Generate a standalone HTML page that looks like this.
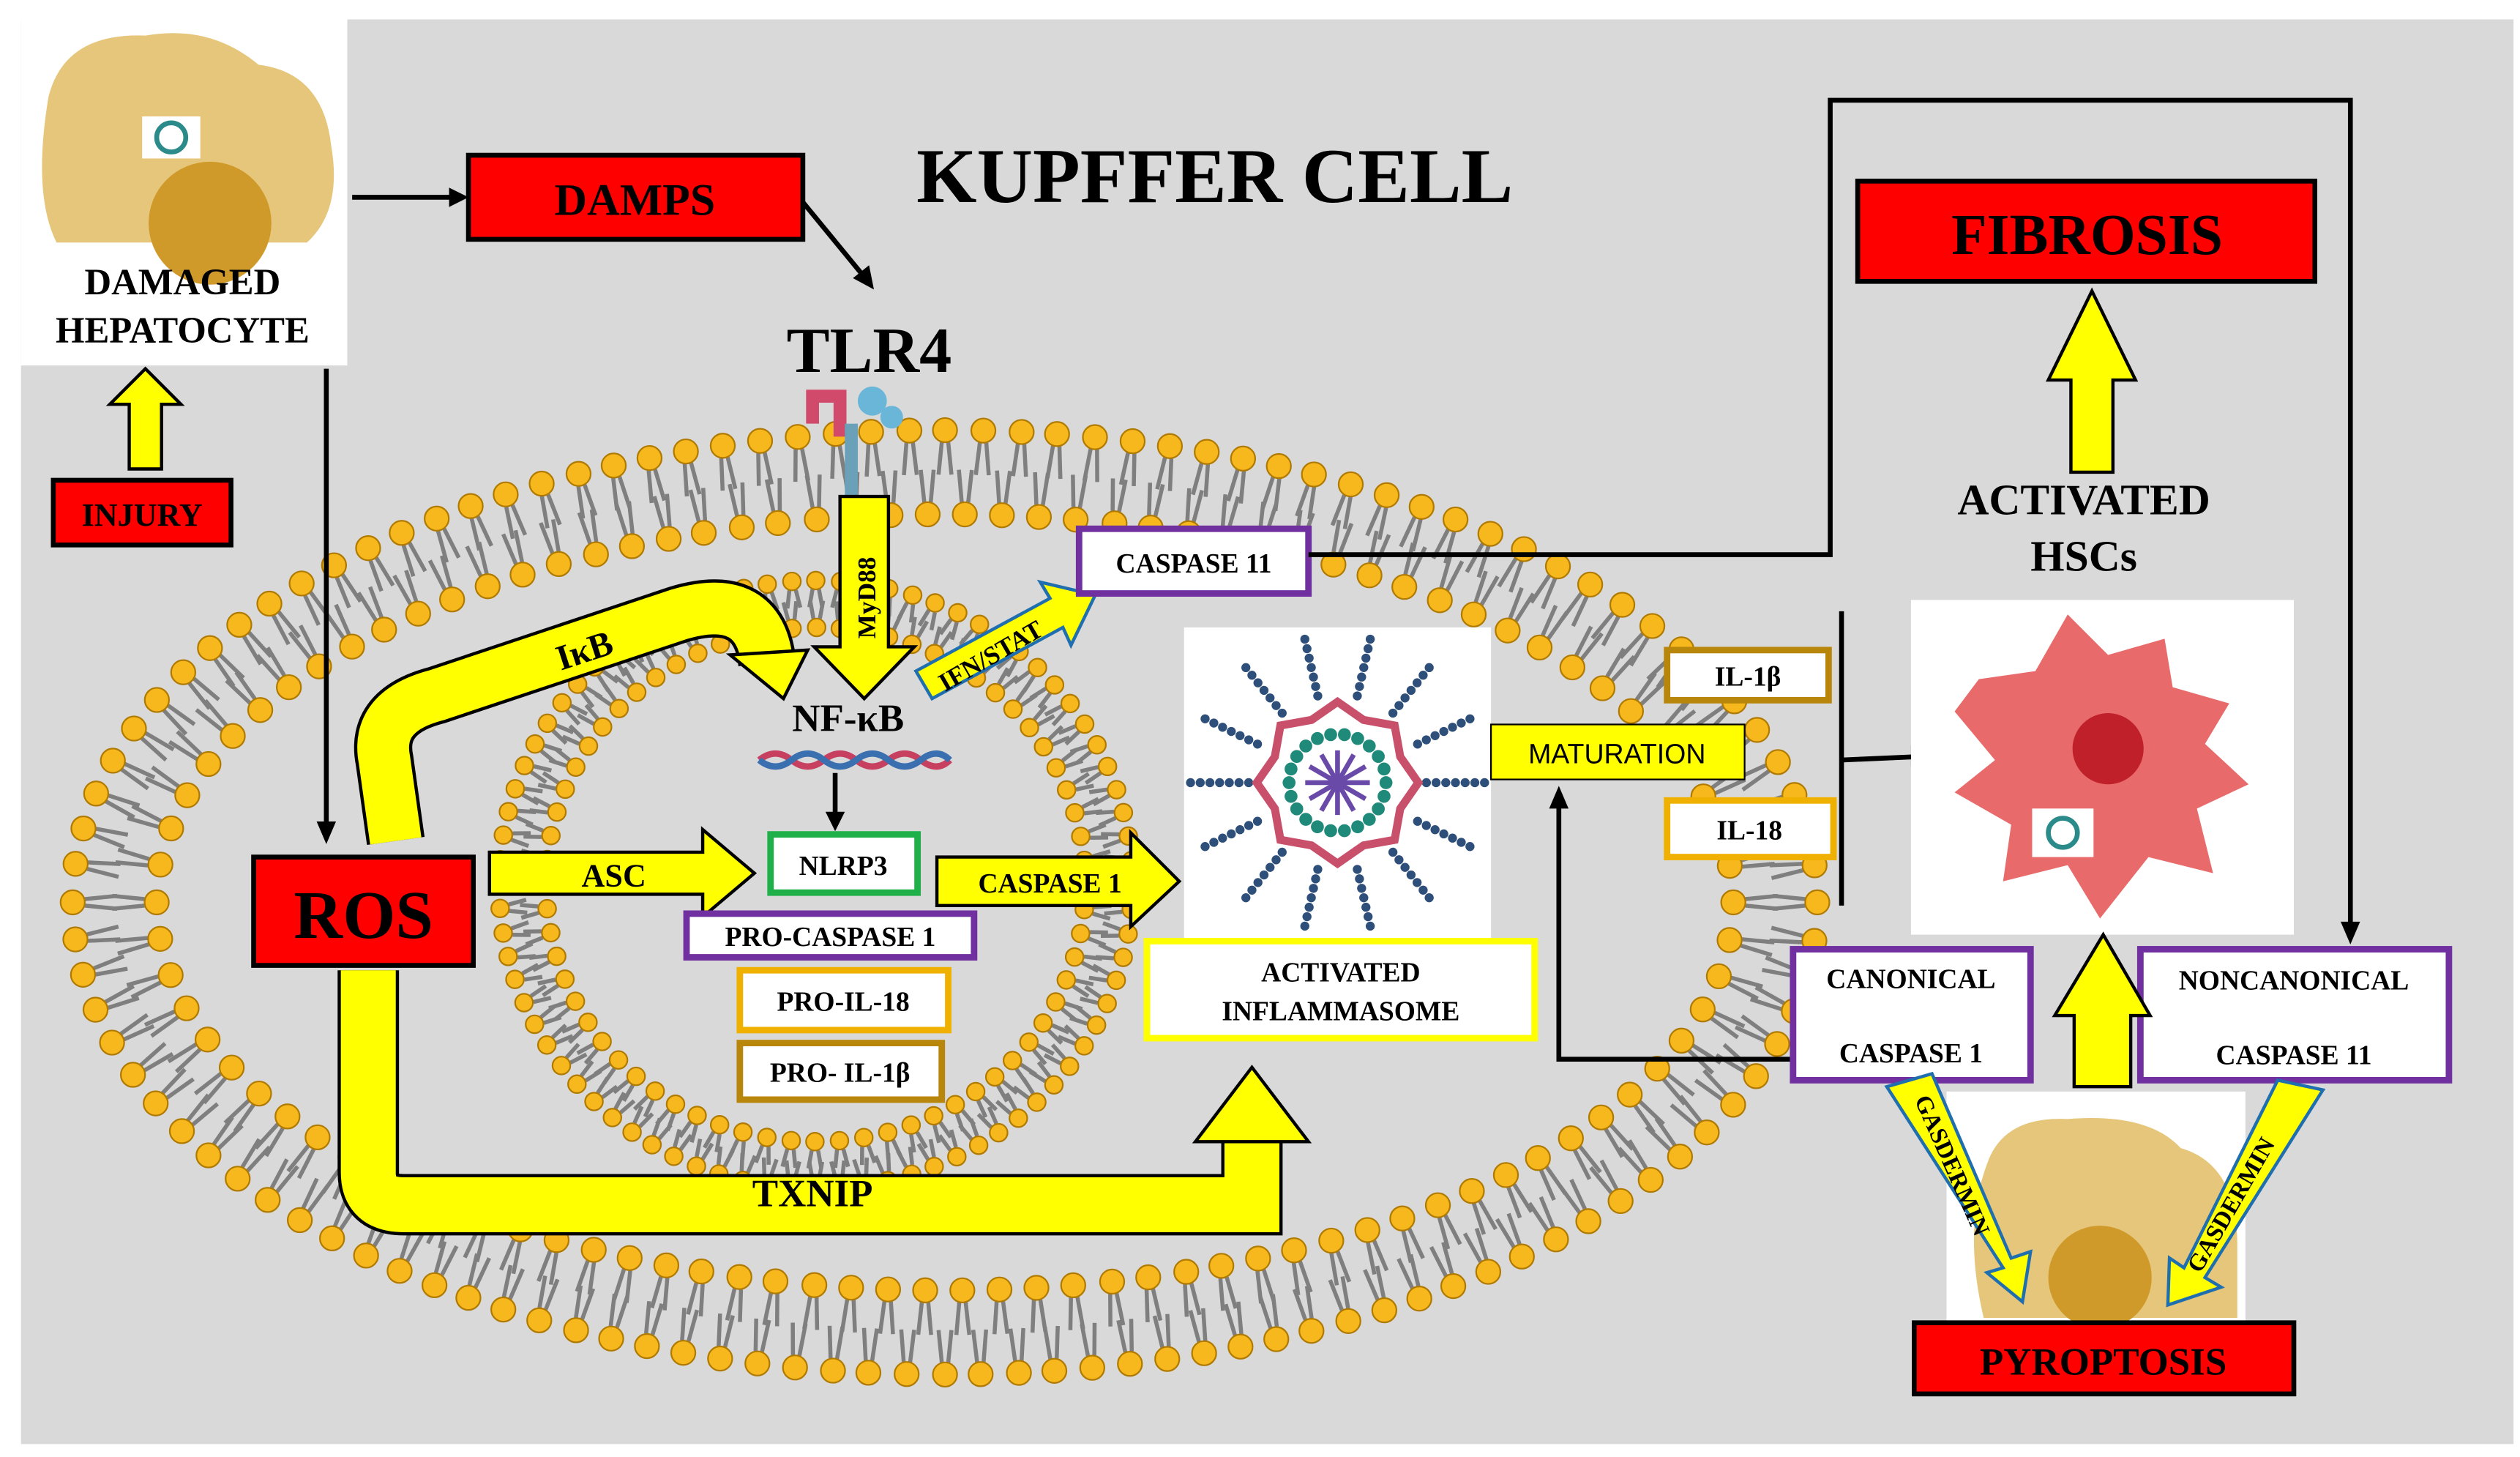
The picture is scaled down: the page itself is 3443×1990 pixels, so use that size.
<!DOCTYPE html>
<html><head><meta charset="utf-8"><style>
html,body{margin:0;padding:0;background:#fff}
svg{display:block}
text{font-family:"Liberation Serif",serif;font-weight:bold}
.s{font-family:"Liberation Sans",sans-serif;font-weight:normal}
</style></head><body>
<svg id="sv" width="3443" height="1990" viewBox="0 0 1560 901" preserveAspectRatio="none" xmlns="http://www.w3.org/2000/svg">
<rect x="0" y="0" width="1560" height="901" fill="#fff"/>
<rect x="13" y="12" width="1543" height="881" fill="#d9d9d9"/>
<rect x="13" y="12" width="202" height="214" fill="#fff"/>
<g id="mem"></g>

<path d="M30,60 Q40,20 90,22 Q130,15 160,40 Q200,45 205,90 Q212,130 190,150 L35,150 Q20,120 30,60Z" fill="#e6c67a"/>
<circle cx="130" cy="138" r="38" fill="#d09a2a"/>
<rect x="88" y="72" width="36" height="26" fill="#fff"/><circle cx="106" cy="85" r="9" fill="none" stroke="#2b8a8a" stroke-width="3"/>
<text x="113" y="182" font-size="23" text-anchor="middle">DAMAGED</text>
<text x="113" y="212" font-size="23" text-anchor="middle">HEPATOCYTE</text>

<polygon points="80,290 80,250 68,250 90,228 112,250 100,250 100,290" fill="#ff0" stroke="#000" stroke-width="2"/>
<rect x="33" y="297" width="110" height="40" fill="#f00" stroke="#000" stroke-width="3"/>
<text x="88" y="325" font-size="20" text-anchor="middle">INJURY</text>

<text x="752" y="125" font-size="48" text-anchor="middle">KUPFFER CELL</text>
<line x1="218" y1="122" x2="280" y2="122" stroke="#000" stroke-width="3"/><polygon points="290,122 278,116 278,128"/>
<rect x="290" y="96" width="207" height="52" fill="#f00" stroke="#000" stroke-width="3"/>
<text x="393" y="133" font-size="28" text-anchor="middle">DAMPS</text>
<line x1="497" y1="125" x2="534" y2="170" stroke="#000" stroke-width="3"/><polygon points="541,179 538,164 528,172"/>
<text x="538" y="230" font-size="40" text-anchor="middle">TLR4</text>
<path d="M503,262 V245 H520 V270" fill="none" stroke="#d14a6b" stroke-width="8"/>
<circle cx="540" cy="248" r="9" fill="#6ab6d8"/><circle cx="552" cy="258" r="7" fill="#6ab6d8"/>
<rect x="523" y="262" width="8" height="45" fill="#6aa0b8"/>

<line x1="202" y1="228" x2="202" y2="510" stroke="#000" stroke-width="3"/><polygon points="202,522 196,508 208,508"/>

<path d="M245,520 L238,470 Q232,440 270,430 L420,380 Q470,365 475,410" fill="none" stroke="#000" stroke-width="36"/>
<path d="M245,520 L238,470 Q232,440 270,430 L420,380 Q470,365 475,410" fill="none" stroke="#ff0" stroke-width="32"/>
<polygon points="452,405 500,402 485,432" fill="#ff0" stroke="#000" stroke-width="2"/>
<text x="345" y="415" font-size="22" transform="rotate(-18 345 408)">IκB</text>

<rect x="157" y="530" width="136" height="67" fill="#f00" stroke="#000" stroke-width="3"/>
<text x="225" y="580" font-size="42" text-anchor="middle">ROS</text>

<polygon points="520,307 550,307 550,400 566,400 535,432 504,400 520,400" fill="#ff0" stroke="#000" stroke-width="2"/>
<text x="0" y="0" font-size="16" transform="translate(542,395) rotate(-90)">MyD88</text>
<text x="525" y="452" font-size="24" text-anchor="middle">NF-κB</text>
<path d="M470,470 Q480,462 490,470 T510,470 T530,470 T550,470 T570,470 T588,470" fill="none" stroke="#c84060" stroke-width="4"/>
<path d="M470,470 Q480,478 490,470 T510,470 T530,470 T550,470 T570,470 T588,470" fill="none" stroke="#3a70b0" stroke-width="4"/>
<line x1="517" y1="478" x2="517" y2="504" stroke="#000" stroke-width="3"/><polygon points="517,514 511,502 523,502"/>

<polygon points="303,527 435,527 435,513 467,540 435,567 435,553 303,553" fill="#ff0" stroke="#000" stroke-width="2"/>
<text x="380" y="548" font-size="20" text-anchor="middle">ASC</text>
<rect x="477" y="516" width="91" height="36" fill="#fff" stroke="#1fb04a" stroke-width="4"/>
<text x="522" y="541" font-size="17" text-anchor="middle">NLRP3</text>
<rect x="425" y="565" width="178" height="27" fill="#fff" stroke="#7030a0" stroke-width="4"/>
<text x="514" y="585" font-size="17" text-anchor="middle">PRO-CASPASE 1</text>
<rect x="458" y="600" width="129" height="37" fill="#fff" stroke="#f0b000" stroke-width="4"/>
<text x="522" y="625" font-size="17" text-anchor="middle">PRO-IL-18</text>
<rect x="458" y="645" width="125" height="35" fill="#fff" stroke="#b8860b" stroke-width="4"/>
<text x="520" y="669" font-size="17" text-anchor="middle">PRO- IL-1β</text>

<polygon points="580,530 700,530 700,515 730,545 700,573 700,560 580,560" fill="#ff0" stroke="#000" stroke-width="2"/>
<text x="650" y="552" font-size="17" text-anchor="middle">CASPASE 1</text>

<polygon points="567,415 650,370 644,360 678,368 663,399 658,388 577,432" fill="#ff0" stroke="#1f6fb0" stroke-width="2"/>
<text x="0" y="0" font-size="16" transform="translate(585,428) rotate(-30)">IFN/STAT</text>
<rect x="668" y="327" width="142" height="40" fill="#fff" stroke="#7030a0" stroke-width="4"/>
<text x="739" y="354" font-size="17" text-anchor="middle">CASPASE 11</text>
<polyline points="810,343 1133,343 1133,62 1455,62 1455,572" fill="none" stroke="#000" stroke-width="3"/><polygon points="1455,584 1449,570 1461,570"/>

<rect x="733" y="388" width="190" height="192" fill="#fff"/>
<g id="infl"></g>
<rect x="710" y="582" width="240" height="60" fill="#fff" stroke="#ff0" stroke-width="4"/>
<text x="830" y="607" font-size="17" text-anchor="middle">ACTIVATED</text>
<text x="830" y="631" font-size="17" text-anchor="middle">INFLAMMASOME</text>

<path d="M228,600 V725 Q228,745 250,745 H775 V700" fill="none" stroke="#000" stroke-width="38"/>
<path d="M228,600 V725 Q228,745 250,745 H775 V700" fill="none" stroke="#ff0" stroke-width="34"/>
<polygon points="740,706 810,706 775,660" fill="#ff0" stroke="#000" stroke-width="2"/>
<text x="503" y="746" font-size="24" text-anchor="middle">TXNIP</text>

<rect x="923" y="448" width="157" height="34" fill="#ff0" stroke="#000" stroke-width="1"/>
<text x="1001" y="472" font-size="17" text-anchor="middle" class="s">MATURATION</text>
<rect x="1032" y="402" width="100" height="31" fill="#fff" stroke="#b8860b" stroke-width="4"/>
<text x="1082" y="424" font-size="17" text-anchor="middle">IL-1β</text>
<rect x="1032" y="495" width="103" height="35" fill="#fff" stroke="#f0b000" stroke-width="4"/>
<text x="1083" y="519" font-size="17" text-anchor="middle">IL-18</text>
<line x1="1140" y1="378" x2="1140" y2="560" stroke="#000" stroke-width="3"/>
<line x1="1140" y1="470" x2="1185" y2="468" stroke="#000" stroke-width="3"/><polygon points="1197,467 1183,461 1183,474"/>
<polyline points="1110,655 965,655 965,498" fill="none" stroke="#000" stroke-width="3"/><polygon points="965,486 959,500 971,500"/>

<rect x="1183" y="371" width="237" height="207" fill="#fff"/>
<path d="M1225,420 L1260,415 L1280,380 L1305,405 L1340,395 L1345,425 L1380,435 L1365,460 L1392,485 L1360,500 L1370,540 L1330,530 L1300,568 L1280,535 L1240,545 L1245,510 L1210,490 L1235,470 L1210,440Z" fill="#e86a6a"/>
<circle cx="1305" cy="463" r="22" fill="#c0202a"/>
<rect x="1258" y="500" width="38" height="30" fill="#fff"/><circle cx="1277" cy="515" r="9" fill="none" stroke="#2b8a8a" stroke-width="3"/>
<text x="1290" y="318" font-size="27" text-anchor="middle">ACTIVATED</text>
<text x="1290" y="353" font-size="27" text-anchor="middle">HSCs</text>
<polygon points="1282,292 1282,235 1268,235 1295,180 1322,235 1308,235 1308,292" fill="#ff0" stroke="#000" stroke-width="2"/>
<rect x="1150" y="112" width="283" height="62" fill="#f00" stroke="#000" stroke-width="3"/>
<text x="1292" y="157" font-size="36" text-anchor="middle">FIBROSIS</text>

<rect x="1110" y="587" width="147" height="81" fill="#fff" stroke="#7030a0" stroke-width="4"/>
<text x="1183" y="611" font-size="17" text-anchor="middle">CANONICAL</text>
<text x="1183" y="657" font-size="17" text-anchor="middle">CASPASE 1</text>
<rect x="1325" y="587" width="191" height="81" fill="#fff" stroke="#7030a0" stroke-width="4"/>
<text x="1420" y="612" font-size="17" text-anchor="middle">NONCANONICAL</text>
<text x="1420" y="658" font-size="17" text-anchor="middle">CASPASE 11</text>
<rect x="1205" y="675" width="185" height="145" fill="#fff"/>
<path d="M1230,720 Q1240,690 1280,692 Q1330,688 1350,710 Q1385,720 1385,770 L1385,815 L1228,815 Q1215,760 1230,720Z" fill="#e6c67a"/>
<circle cx="1300" cy="790" r="32" fill="#d09a2a"/>
<polygon points="1284,672 1284,628 1272,628 1302,578 1331,628 1319,628 1319,672" fill="#ff0" stroke="#000" stroke-width="2"/>
<polygon points="1168,672 1196,664 1245,778 1257,774 1252,805 1230,787 1240,784" fill="#ff0" stroke="#1f6fb0" stroke-width="2"/>
<text x="0" y="0" font-size="15" transform="translate(1185,680) rotate(66)">GASDERMIN</text>
<polygon points="1410,668 1438,674 1365,790 1375,796 1342,807 1343,778 1352,784" fill="#ff0" stroke="#1f6fb0" stroke-width="2"/>
<text x="0" y="0" font-size="15" transform="translate(1362,788) rotate(-60)">GASDERMIN</text>
<rect x="1185" y="818" width="235" height="44" fill="#f00" stroke="#000" stroke-width="3"/>
<text x="1302" y="850" font-size="24" text-anchor="middle">PYROPTOSIS</text>
</svg>
<script>
var NS="http://www.w3.org/2000/svg";
var mem=document.getElementById("mem");
function el(t,a,p){var e=document.createElementNS(NS,t);for(var k in a)e.setAttribute(k,a[k]);(p||mem).appendChild(e);return e;}
function leaflet(cx,cy,rx,ry,dir,sp,hr,tl){
 var N=2000,pts=[],L=0,prev=null;
 for(var i=0;i<=N;i++){var t=i/N*2*Math.PI;var p=[cx+rx*Math.cos(t),cy+ry*Math.sin(t),t];if(prev)L+=Math.hypot(p[0]-prev[0],p[1]-prev[1]);p.push(L);pts.push(p);prev=p;}
 var n=Math.round(L/sp),step=L/n,j=0;
 for(var k=0;k<n;k++){var s=k*step;while(pts[j][3]<s)j++;var p=pts[j],t=p[2];
  var nx=Math.cos(t)/rx,ny=Math.sin(t)/ry,m=Math.hypot(nx,ny);nx/=m;ny/=m;
  var tx=-ny,ty=nx;
  var bx=p[0]-dir*nx*hr,by=p[1]-dir*ny*hr;
  var ex=p[0]-dir*nx*(hr+tl),ey=p[1]-dir*ny*(hr+tl);
  for(var q=-1;q<=1;q+=2){
   el("line",{x1:bx+tx*q*2,y1:by+ty*q*2,x2:ex+tx*q*4,y2:ey+ty*q*4,stroke:"#7f7f7f","stroke-width":2.5});
  }
  el("circle",{cx:p[0],cy:p[1],r:hr,fill:"#f6b81c",stroke:"#b07a00","stroke-width":1});
 }
}
leaflet(585,558,540,292,1,23,7.5,20);
leaflet(585,558,488,240,-1,23,7.5,20);
leaflet(505,547,196,188,1,15,5.5,11);
leaflet(505,547,167,159,-1,15,5.5,11);
var g=document.getElementById("infl"),cx=828,cy=484;
for(var i=0;i<14;i++){var a=i/14*2*Math.PI;for(var r=55;r<95;r+=6)el("circle",{cx:cx+r*Math.cos(a),cy:cy+r*Math.sin(a),r:2.8,fill:"#2d4f7a"},g);}
var pp="";for(var i=0;i<16;i++){var a=i/16*2*Math.PI,r=(i%2?42:50);pp+=(cx+r*Math.cos(a))+","+(cy+r*Math.sin(a))+" ";}
el("polygon",{points:pp,fill:"none",stroke:"#c8506a","stroke-width":5},g);
for(var i=0;i<22;i++){var a=i/22*2*Math.PI;el("circle",{cx:cx+30*Math.cos(a),cy:cy+30*Math.sin(a),r:4,fill:"#1f8a7a"},g);}
for(var i=0;i<12;i++){var a=i/12*2*Math.PI;el("line",{x1:cx,y1:cy,x2:cx+20*Math.cos(a),y2:cy+20*Math.sin(a),stroke:"#6a4aa8","stroke-width":3},g);}
</script>
</body></html>
